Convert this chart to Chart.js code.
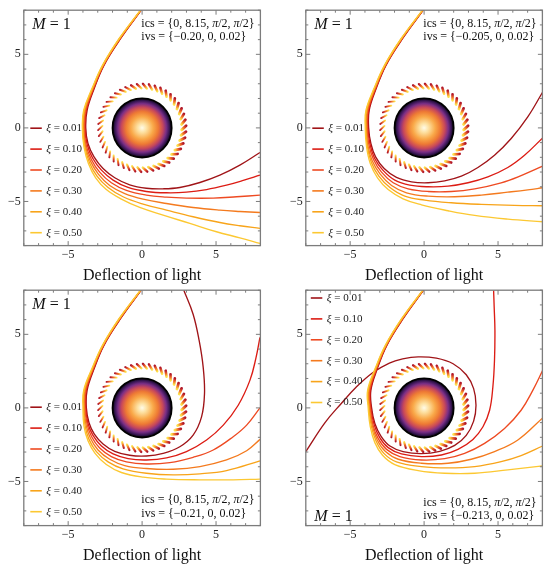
<!DOCTYPE html>
<html>
<head>
<meta charset="utf-8">
<script src="https://cdn.jsdelivr.net/npm/chart.js@4.4.1/dist/chart.umd.min.js"></script>
<style>
  html, body { margin: 0; padding: 0; background: #fff; }
  body { width: 550px; height: 565px; position: relative; overflow: hidden; }
  canvas { position: absolute; }
</style>
</head>
<body>
<canvas id="c1" width="268" height="285" style="left:0;top:0"></canvas>
<canvas id="c2" width="268" height="285" style="left:282px;top:0"></canvas>
<canvas id="c3" width="268" height="285" style="left:0;top:280px"></canvas>
<canvas id="c4" width="268" height="285" style="left:282px;top:280px"></canvas>
<script>
// legend values, one per trajectory
const xiValues = ['0.01', '0.10', '0.20', '0.30', '0.40', '0.50'];
const ivsTexts = ['ivs = {−0.20, 0, 0.02}', 'ivs = {−0.205, 0, 0.02}',
                  'ivs = {−0.21, 0, 0.02}', 'ivs = {−0.213, 0, 0.02}'];

// panel 1 : ivs -0.20
const a001 = [[-0.06,8.0],[-1.46,6.06],[-2.58,4.25],[-3.24,2.67],[-3.72,1.20],[-3.81,0],[-3.66,-1.06],[-3.25,-1.97],[-2.64,-2.76],[-1.85,-3.39],[-0.84,-3.87],[0.29,-4.10],[1.42,-4.14],[2.55,-4.05],[3.91,-3.71],[5.26,-3.21],[6.61,-2.53],[7.97,-1.67]];
const a010 = [[-0.07,8.0],[-1.48,6.06],[-2.60,4.25],[-3.27,2.67],[-3.77,1.20],[-3.86,0],[-3.72,-1.11],[-3.34,-2.06],[-2.75,-2.87],[-1.96,-3.55],[-0.95,-4.05],[0.29,-4.32],[1.65,-4.41],[3.00,-4.37],[4.36,-4.19],[5.71,-3.89],[6.84,-3.57],[7.97,-3.21]];
const a020 = [[-0.08,8.0],[-1.50,6.06],[-2.62,4.25],[-3.30,2.67],[-3.81,1.20],[-3.91,0],[-3.79,-1.15],[-3.43,-2.15],[-2.87,-3.01],[-2.08,-3.73],[-1.06,-4.25],[0.29,-4.57],[1.65,-4.71],[3.00,-4.77],[4.81,-4.77],[6.39,-4.68],[7.97,-4.57]];
const a030 = [[-0.09,8.0],[-1.52,6.06],[-2.64,4.25],[-3.33,2.67],[-3.86,1.20],[-3.95,0],[-3.84,-1.20],[-3.50,-2.24],[-2.96,-3.14],[-2.19,-3.91],[-1.17,-4.46],[0.07,-4.84],[1.65,-5.14],[3.45,-5.41],[5.26,-5.59],[6.61,-5.68],[7.97,-5.75]];
const a040 = [[-0.10,8.0],[-1.54,6.06],[-2.66,4.25],[-3.36,2.67],[-3.91,1.20],[-4.00,0],[-3.88,-1.24],[-3.57,-2.33],[-3.05,-3.28],[-2.30,-4.05],[-1.29,-4.68],[0.07,-5.18],[1.65,-5.59],[3.45,-6.04],[5.26,-6.43],[6.61,-6.65],[7.97,-6.83]];
const a050 = [[-0.11,8.0],[-1.56,6.06],[-2.68,4.25],[-3.39,2.67],[-3.95,1.20],[-4.04,0],[-3.93,-1.29],[-3.63,-2.42],[-3.14,-3.39],[-2.42,-4.19],[-1.40,-4.84],[-0.16,-5.41],[1.42,-5.93],[3.23,-6.49],[5.03,-7.06],[6.61,-7.47],[7.97,-7.85]];

// panel 2 : ivs -0.205
const b001 = [[-0.06,8.0],[-1.46,6.06],[-2.58,4.25],[-3.24,2.67],[-3.71,1.20],[-3.75,0],[-3.60,-1.06],[-3.28,-1.97],[-2.70,-2.76],[-1.87,-3.37],[-0.85,-3.67],[0.27,-3.73],[1.39,-3.60],[2.52,-3.28],[3.64,-2.69],[4.76,-1.86],[5.89,-0.72],[7.01,0.75],[8.02,2.44]];
const b010 = [[-0.07,8.0],[-1.48,6.06],[-2.60,4.25],[-3.27,2.67],[-3.75,1.20],[-3.80,0],[-3.66,-1.11],[-3.35,-2.06],[-2.79,-2.87],[-1.98,-3.55],[-0.97,-3.89],[0.27,-4.00],[1.62,-3.96],[2.97,-3.73],[4.31,-3.33],[5.66,-2.69],[6.79,-1.86],[8.02,-0.68]];
const b020 = [[-0.08,8.0],[-1.50,6.06],[-2.62,4.25],[-3.30,2.67],[-3.80,1.20],[-3.84,0],[-3.73,-1.15],[-3.42,-2.15],[-2.88,-3.01],[-2.09,-3.73],[-1.08,-4.14],[0.27,-4.32],[1.84,-4.32],[3.42,-4.14],[5.21,-3.73],[6.56,-3.24],[8.02,-2.60]];
const b030 = [[-0.09,8.0],[-1.52,6.06],[-2.64,4.25],[-3.33,2.67],[-3.84,1.20],[-3.89,0],[-3.80,-1.20],[-3.51,-2.24],[-2.97,-3.14],[-2.20,-3.91],[-1.19,-4.41],[0.27,-4.64],[2.07,-4.68],[3.87,-4.57],[5.66,-4.37],[7.01,-4.21],[8.02,-4.07]];
const b040 = [[-0.10,8.0],[-1.54,6.06],[-2.66,4.25],[-3.36,2.67],[-3.89,1.20],[-3.93,0],[-3.84,-1.24],[-3.57,-2.33],[-3.06,-3.28],[-2.31,-4.05],[-1.30,-4.64],[0.04,-4.91],[1.84,-5.09],[3.87,-5.20],[6.11,-5.27],[8.02,-5.29]];
const b050 = [[-0.11,8.0],[-1.56,6.06],[-2.68,4.25],[-3.39,2.67],[-3.93,1.20],[-3.98,0],[-3.89,-1.29],[-3.64,-2.42],[-3.15,-3.39],[-2.43,-4.19],[-1.42,-4.82],[-0.18,-5.23],[1.62,-5.63],[3.42,-5.95],[5.66,-6.20],[8.02,-6.38]];

// panel 3 : ivs -0.21
const c001 = [[-0.06,8.0],[-1.46,6.06],[-2.58,4.25],[-3.24,2.67],[-3.72,1.19],[-3.77,0],[-3.59,-1.01],[-3.23,-1.78],[-2.64,-2.45],[-1.85,-2.95],[-0.84,-3.22],[0.29,-3.27],[1.42,-3.09],[2.55,-2.64],[3.45,-1.85],[4.02,-0.61],[4.22,0.97],[4.13,2.77],[3.86,4.57],[3.45,6.37],[2.82,8.0]];
const c010 = [[-0.07,8.0],[-1.48,6.06],[-2.60,4.25],[-3.27,2.67],[-3.77,1.19],[-3.81,0],[-3.66,-1.06],[-3.32,-1.87],[-2.75,-2.59],[-1.96,-3.13],[-0.95,-3.45],[0.29,-3.54],[1.65,-3.40],[3.00,-2.97],[4.36,-2.18],[5.49,-1.17],[6.50,0.18],[7.29,1.87],[7.70,3.40],[7.97,4.80]];
const c020 = [[-0.08,8.0],[-1.50,6.06],[-2.62,4.25],[-3.30,2.67],[-3.81,1.19],[-3.86,0],[-3.72,-1.10],[-3.41,-1.96],[-2.87,-2.73],[-2.08,-3.31],[-1.06,-3.67],[0.29,-3.81],[1.87,-3.72],[3.45,-3.36],[4.81,-2.86],[6.16,-1.96],[7.07,-1.17],[7.97,0]];
const c030 = [[-0.09,8.0],[-1.52,6.06],[-2.64,4.25],[-3.33,2.67],[-3.86,1.19],[-3.91,0],[-3.79,-1.15],[-3.50,-2.05],[-2.98,-2.86],[-2.19,-3.49],[-1.17,-3.92],[0.29,-4.12],[2.10,-4.17],[3.91,-3.99],[5.71,-3.54],[7.07,-2.91],[7.97,-2.14]];
const c040 = [[-0.10,8.0],[-1.54,6.06],[-2.66,4.25],[-3.36,2.67],[-3.91,1.19],[-3.95,0],[-3.86,-1.19],[-3.59,-2.14],[-3.09,-2.97],[-2.30,-3.67],[-1.29,-4.14],[0.29,-4.44],[2.10,-4.55],[3.91,-4.48],[5.71,-4.26],[7.97,-3.60]];
const c050 = [[-0.11,8.0],[-1.56,6.06],[-2.68,4.25],[-3.39,2.67],[-3.95,1.19],[-4.00,0],[-3.93,-1.24],[-3.66,-2.23],[-3.18,-3.09],[-2.42,-3.85],[-1.40,-4.39],[0.07,-4.71],[1.65,-4.84],[3.91,-4.89],[6.16,-4.89],[7.97,-4.84]];

// panel 4 : ivs -0.213
const d001 = [[-0.04,8.0],[-1.42,6.06],[-2.52,4.25],[-3.16,2.67],[-3.60,1.19],[-3.55,0],[-3.33,-1.06],[-2.92,-1.91],[-2.31,-2.59],[-1.42,-2.97],[-0.18,-3.11],[1.06,-2.95],[2.07,-2.55],[2.85,-1.87],[3.35,-0.90],[3.51,0.18],[3.35,1.31],[2.85,2.25],[1.96,3.00],[0.83,3.38],[-0.40,3.47],[-1.45,3.33],[-2.35,3.05],[-3.48,2.39],[-4.60,1.40],[-5.60,0.30],[-6.70,-1.00],[-8.00,-2.97]];
const d010 = [[-0.05,8.0],[-1.44,6.06],[-2.54,4.25],[-3.19,2.67],[-3.64,1.19],[-3.60,0],[-3.39,-1.10],[-3.01,-2.00],[-2.43,-2.70],[-1.53,-3.13],[-0.18,-3.31],[1.17,-3.20],[2.29,-2.82],[3.30,-2.14],[3.98,-1.28],[4.43,-0.16],[4.65,1.42],[4.76,3.22],[4.79,5.25],[4.74,6.82],[4.70,8.0]];
const d020 = [[-0.06,8.0],[-1.46,6.06],[-2.56,4.25],[-3.22,2.67],[-3.69,1.19],[-3.64,0],[-3.46,-1.15],[-3.10,-2.09],[-2.54,-2.82],[-1.64,-3.31],[-0.18,-3.54],[1.39,-3.45],[2.74,-3.09],[4.09,-2.41],[5.44,-1.40],[6.56,-0.16],[7.35,1.19],[8.02,2.55]];
const d030 = [[-0.07,8.0],[-1.48,6.06],[-2.58,4.25],[-3.25,2.67],[-3.73,1.19],[-3.69,0],[-3.51,-1.19],[-3.17,-2.18],[-2.63,-2.95],[-1.75,-3.49],[-0.18,-3.76],[1.62,-3.76],[3.19,-3.49],[4.76,-2.97],[6.34,-2.18],[8.02,-0.68]];
const d040 = [[-0.08,8.0],[-1.50,6.06],[-2.60,4.25],[-3.28,2.67],[-3.78,1.19],[-3.73,0],[-3.57,-1.24],[-3.24,-2.27],[-2.72,-3.09],[-1.87,-3.67],[-0.18,-3.99],[1.62,-4.08],[3.42,-3.99],[5.21,-3.65],[6.56,-3.24],[8.02,-2.59]];
const d050 = [[-0.09,8.0],[-1.52,6.06],[-2.62,4.25],[-3.31,2.67],[-3.82,1.19],[-3.78,0],[-3.64,-1.28],[-3.33,-2.36],[-2.81,-3.22],[-1.98,-3.85],[-0.40,-4.26],[1.39,-4.44],[3.42,-4.44],[5.66,-4.21],[8.02,-3.94]];

// styles
const curveColors = ['#a01418', '#dc1c14', '#ee4a22', '#f47a1e', '#f8a41a', '#fcc832'];
const SERIF = "'Liberation Serif', 'DejaVu Serif', serif";
const FRAME = '#7c7c7c';
const DISK_R = 2.0, RING_IN = 2.68, RING_OUT = 2.98, RING_DASHES = 46;

function tickLabel(v) {
  if (v % 5 !== 0) return '';
  return v < 0 ? '\u2212' + Math.abs(v) : String(v);
}

// text made of upright / italic pieces
function drawPieces(ctx, pieces, x, y, size) {
  let cx = x;
  pieces.forEach(p => {
    ctx.font = (p[1] ? 'italic ' : '') + size + 'px ' + SERIF;
    ctx.fillText(p[0], cx, y);
    cx += ctx.measureText(p[0]).width;
  });
}

const panelDecor = {
  id: 'panelDecor',
  beforeDatasetsDraw(chart) {
    const ctx = chart.ctx, xs = chart.scales.x, ys = chart.scales.y, ca = chart.chartArea;
    const cx = xs.getPixelForValue(0), cy = ys.getPixelForValue(0);
    const unit = xs.getPixelForValue(1) - cx;
    ctx.save();
    ctx.beginPath();
    ctx.rect(ca.left, ca.top, ca.right - ca.left, ca.bottom - ca.top);
    ctx.clip();
    // photon ring: short twisted strokes, red end leading, yellow end trailing
    ctx.lineCap = 'round';
    for (let i = 0; i < RING_DASHES; i++) {
      const a = i / RING_DASHES * Math.PI * 2;
      const x1 = cx + RING_OUT * unit * Math.cos(a + 0.05), y1 = cy - RING_OUT * unit * Math.sin(a + 0.05);
      const x2 = cx + RING_IN * unit * Math.cos(a - 0.05), y2 = cy - RING_IN * unit * Math.sin(a - 0.05);
      const g = ctx.createLinearGradient(x1, y1, x2, y2);
      g.addColorStop(0, '#b0162a');
      g.addColorStop(0.5, '#f06a26');
      g.addColorStop(1, '#fde04a');
      ctx.strokeStyle = g;
      ctx.lineWidth = 2.3 + 0.5 * Math.cos(a);
      ctx.beginPath();
      ctx.moveTo(x1, y1);
      ctx.lineTo(x2, y2);
      ctx.stroke();
    }
    // central body
    const rd = DISK_R * unit;
    const rg = ctx.createRadialGradient(cx, cy, 0, cx, cy, rd);
    rg.addColorStop(0, '#fffbe8');
    rg.addColorStop(0.16, '#fde0a0');
    rg.addColorStop(0.38, '#f9a848');
    rg.addColorStop(0.55, '#ee7a34');
    rg.addColorStop(0.7, '#c8485a');
    rg.addColorStop(0.82, '#7a2e86');
    rg.addColorStop(0.92, '#381654');
    rg.addColorStop(1, '#08030c');
    ctx.fillStyle = rg;
    ctx.beginPath();
    ctx.arc(cx, cy, rd, 0, Math.PI * 2);
    ctx.fill();
    ctx.lineWidth = 1.8;
    ctx.strokeStyle = '#000';
    ctx.stroke();
    ctx.restore();
  },
  afterDatasetsDraw(chart, args, opts) {
    const ctx = chart.ctx, xs = chart.scales.x, ys = chart.scales.y, ca = chart.chartArea;
    ctx.save();
    // frame and inward ticks on all four sides
    ctx.strokeStyle = FRAME;
    ctx.lineWidth = 1.3;
    ctx.strokeRect(ca.left, ca.top, ca.right - ca.left, ca.bottom - ca.top);
    ctx.lineWidth = 1;
    xs.ticks.forEach(t => {
      const px = xs.getPixelForValue(t.value);
      const len = t.value % 5 === 0 ? 4.5 : 2.5;
      ctx.beginPath();
      ctx.moveTo(px, ca.bottom); ctx.lineTo(px, ca.bottom - len);
      ctx.moveTo(px, ca.top); ctx.lineTo(px, ca.top + len);
      ctx.stroke();
    });
    ys.ticks.forEach(t => {
      const py = ys.getPixelForValue(t.value);
      const len = t.value % 5 === 0 ? 4.5 : 2.5;
      ctx.beginPath();
      ctx.moveTo(ca.left, py); ctx.lineTo(ca.left + len, py);
      ctx.moveTo(ca.right, py); ctx.lineTo(ca.right - len, py);
      ctx.stroke();
    });
    // legend
    ctx.textBaseline = 'middle';
    ctx.fillStyle = '#222';
    chart.data.datasets.forEach((ds, i) => {
      const y = ca.top + opts.legendY + i * 20.9;
      ctx.strokeStyle = ds.borderColor;
      ctx.lineWidth = 1.6;
      ctx.beginPath();
      ctx.moveTo(ca.left + opts.legendX, y);
      ctx.lineTo(ca.left + opts.legendX + 11.5, y);
      ctx.stroke();
      drawPieces(ctx, [['ξ', true], [' = ' + xiValues[i], false]], ca.left + opts.legendX + 16, y, 11);
    });
    // annotations
    ctx.fillStyle = '#111';
    const my = opts.mTop ? ca.top + 14.5 : ca.bottom - 9;
    drawPieces(ctx, [['M', true], [' = 1', false]], ca.left + 8.5, my, 16);
    const iy = opts.icsTop ? ca.top + 13.5 : ca.bottom - opts.icsBottom;
    drawPieces(ctx, [['ics = {0, 8.15, ', false], ['π', true], ['/2, ', false], ['π', true], ['/2}', false]], ca.left + 117.5, iy, 12);
    drawPieces(ctx, [[opts.ivs, false]], ca.left + 117.5, iy + 13.4, 12);
    ctx.restore();
  }
};

function makePanel(id, curves, deco) {
  new Chart(document.getElementById(id), {
    type: 'scatter',
    data: {
      datasets: curves.map((pts, i) => ({
        label: 'ξ = ' + xiValues[i],
        data: pts.map(p => ({ x: p[0], y: p[1] })),
        showLine: true,
        borderColor: curveColors[i],
        borderWidth: 1.35,
        pointRadius: 0,
        tension: 0.4,
        fill: false,
        order: curves.length - i   // larger xi drawn on top
      }))
    },
    options: {
      responsive: false,
      animation: false,
      events: [],
      layout: { padding: { top: 9.8, right: 7.6, left: 0, bottom: 0 } },
      plugins: {
        legend: { display: false },
        tooltip: { enabled: false },
        panelDecor: deco
      },
      scales: {
        x: {
          type: 'linear', min: -8, max: 8,
          grid: { display: false, drawTicks: false },
          border: { display: false },
          ticks: { stepSize: 1, autoSkip: false, maxRotation: 0, padding: 2,
                   color: '#222', font: { family: SERIF, size: 12 }, callback: tickLabel },
          title: { display: true, text: 'Deflection of light', color: '#111',
                   font: { family: SERIF, size: 16 }, padding: { top: 0, bottom: 0 } },
          afterFit: s => { s.height = 39.4; }
        },
        y: {
          type: 'linear', min: -8, max: 8,
          grid: { display: false, drawTicks: false },
          border: { display: false },
          ticks: { stepSize: 1, autoSkip: false, padding: 3,
                   color: '#222', font: { family: SERIF, size: 12 }, callback: tickLabel },
          afterFit: s => { s.width = 23.8; }
        }
      }
    },
    plugins: [panelDecor]
  });
}

makePanel('c1', [a001, a010, a020, a030, a040, a050],
  { legendX: 6.5, legendY: 118, mTop: true, icsTop: true, ivs: ivsTexts[0] });
makePanel('c2', [b001, b010, b020, b030, b040, b050],
  { legendX: 6.5, legendY: 118, mTop: true, icsTop: true, ivs: ivsTexts[1] });
makePanel('c3', [c001, c010, c020, c030, c040, c050],
  { legendX: 6.5, legendY: 117, mTop: true, icsTop: false, icsBottom: 25.5, ivs: ivsTexts[2] });
makePanel('c4', [d001, d010, d020, d030, d040, d050],
  { legendX: 5, legendY: 7.8, mTop: false, icsTop: false, icsBottom: 23, ivs: ivsTexts[3] });
</script>
</body>
</html>
